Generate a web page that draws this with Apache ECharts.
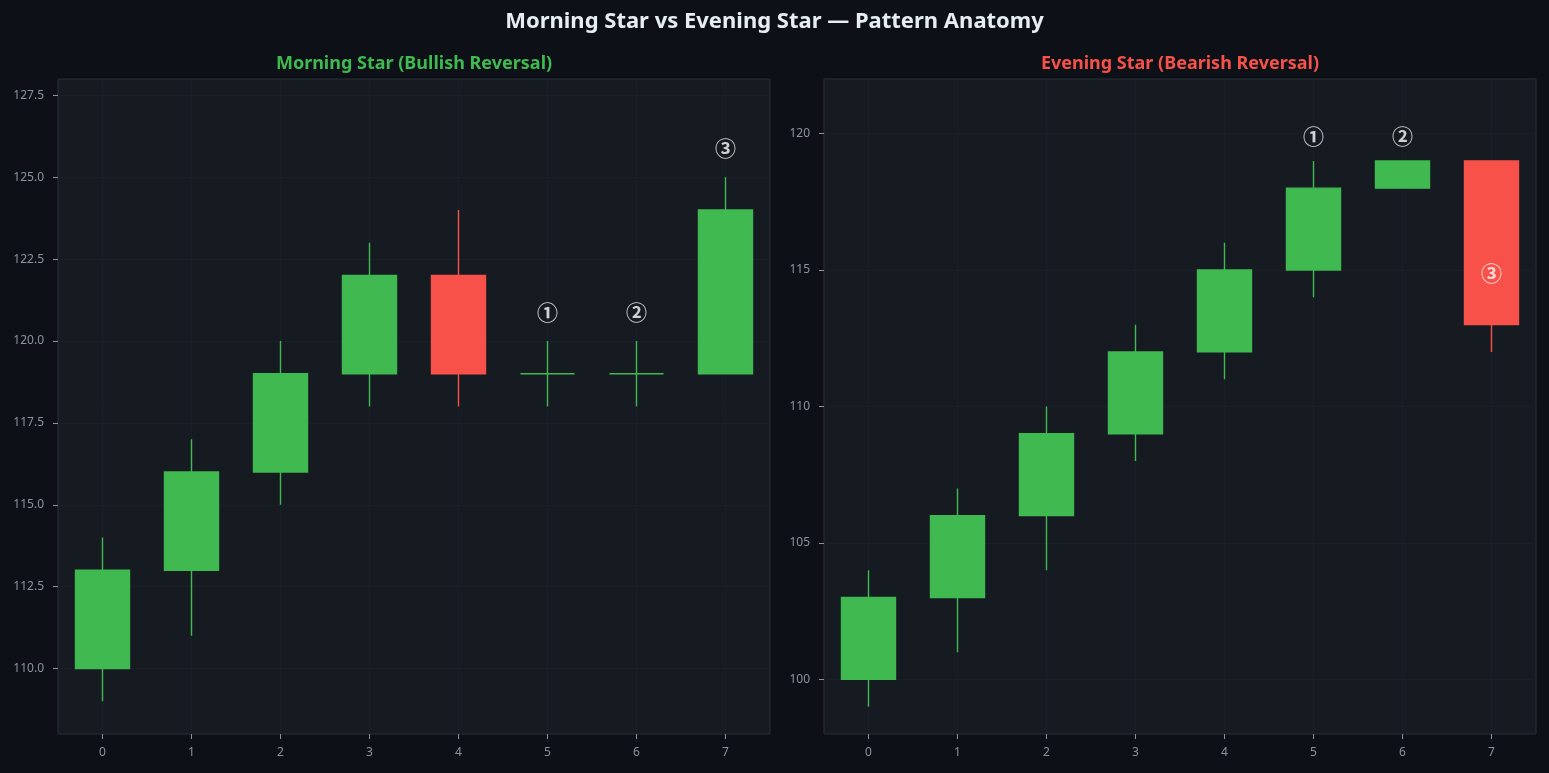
<!DOCTYPE html>
<html>
<head>
<meta charset="utf-8">
<title>Morning Star vs Evening Star</title>
<script src="https://cdn.jsdelivr.net/npm/echarts@6/dist/echarts.min.js"></script>
<style>
  html, body { margin: 0; padding: 0; background: #0d1117; }
  #chart { width: 1549px; height: 773px; }
</style>
</head>
<body>
<div id="chart"></div>
<script>
// --- data ---
var categories = ['0', '1', '2', '3', '4', '5', '6', '7'];

var morningOpen  = [110, 113, 116, 119, 122, 119, 119, 119];
var morningClose = [113, 116, 119, 122, 119, 119, 119, 124];
var morningLow   = [109, 111, 115, 118, 118, 118, 118, 119];
var morningHigh  = [114, 117, 120, 123, 124, 120, 120, 125];

var eveningOpen  = [100, 103, 106, 109, 112, 115, 118, 119];
var eveningClose = [103, 106, 109, 112, 115, 118, 119, 113];
var eveningLow   = [99, 101, 104, 108, 111, 114, 118, 112];
var eveningHigh  = [104, 107, 110, 113, 116, 119, 119, 119];

var markText = ['①', '②', '③'];
var morningMarkIdx = [5, 6, 7];
var morningMarkY = [120.88, 120.88, 125.9];
var eveningMarkIdx = [5, 6, 7];
var eveningMarkY = [119.9, 119.9, 114.9];

var morningTicks = [110, 112.5, 115, 117.5, 120, 122.5, 125, 127.5];
var eveningTicks = [100, 105, 110, 115, 120];

// --- colours ---
var bg = '#0d1117';
var panel = '#161b22';
var border = '#2a3038';
var faint = '#1a1f27';
var ink = '#e6edf3';
var muted = '#8b949e';
var up = '#3fb950';
var down = '#f85149';

function ohlc(o, c, l, h) {
  return o.map(function(v, i) { return [v, c[i], l[i], h[i]]; });
}
function marks(idx, ys) {
  return idx.map(function(v, i) { return [v, ys[i], markText[i]]; });
}

var chart = echarts.init(document.getElementById('chart'), null, { renderer: 'canvas' });

function xAxis(gi) {
  return {
    type: 'category',
    gridIndex: gi,
    data: categories,
    boundaryGap: true,
    axisLine: { show: false },
    axisTick: { show: true, alignWithLabel: true, length: 5, lineStyle: { color: muted, width: 1 } },
    axisLabel: { color: muted, fontSize: 12, margin: 13, fontFamily: 'Noto Sans' },
    splitLine: { show: true, alignWithLabel: true, lineStyle: { color: faint, width: 1 } }
  };
}
function yAxis(gi, min, max, ticks, digits) {
  return {
    type: 'value',
    gridIndex: gi,
    min: min,
    max: max,
    axisLine: { show: false },
    axisTick: { show: true, length: 5, customValues: ticks, lineStyle: { color: muted, width: 1 } },
    axisLabel: {
      color: muted, fontSize: 12, margin: 14, fontFamily: 'Noto Sans',
      customValues: ticks,
      formatter: function(v) { return v.toFixed(digits); }
    },
    splitLine: { show: true, lineStyle: { color: faint, width: 1 } }
  };
}
function candles(xi, data) {
  return {
    type: 'candlestick',
    xAxisIndex: xi,
    yAxisIndex: xi,
    data: data,
    barWidth: 54,
    itemStyle: {
      color: up, color0: down,
      borderColor: up, borderColor0: down, borderColorDoji: up,
      borderWidth: 1.4
    }
  };
}
function labels(xi, data) {
  return {
    type: 'scatter',
    xAxisIndex: xi,
    yAxisIndex: xi,
    data: data,
    symbolSize: 1,
    itemStyle: { color: 'rgba(0,0,0,0)' },
    z: 10,
    label: {
      show: true,
      position: 'inside',
      formatter: function(p) { return p.value[2]; },
      color: '#ffffff',
      textBorderWidth: 0,
      fontSize: 21,
      fontWeight: 'bold',
      fontFamily: 'Noto Sans CJK JP'
    }
  };
}

chart.setOption({
  animation: false,
  backgroundColor: bg,
  title: [
    { text: 'Morning Star vs Evening Star — Pattern Anatomy', left: 'center', top: 6,
      textStyle: { color: ink, fontSize: 22, fontWeight: 'bold', fontFamily: 'Noto Sans' } },
    { text: 'Morning Star (Bullish Reversal)', left: 409, top: 50, textAlign: 'center',
      textStyle: { color: up, fontSize: 18, fontWeight: 'bold', fontFamily: 'Noto Sans' } },
    { text: 'Evening Star (Bearish Reversal)', left: 1175, top: 50, textAlign: 'center',
      textStyle: { color: down, fontSize: 18, fontWeight: 'bold', fontFamily: 'Noto Sans' } }
  ],
  grid: [
    { left: 58, right: 779, top: 79, bottom: 39, show: true, backgroundColor: panel, borderColor: border, borderWidth: 1 },
    { left: 824, right: 13, top: 79, bottom: 39, show: true, backgroundColor: panel, borderColor: border, borderWidth: 1 }
  ],
  xAxis: [xAxis(0), xAxis(1)],
  yAxis: [
    yAxis(0, 108, 128, morningTicks, 1),
    yAxis(1, 98, 122, eveningTicks, 0)
  ],
  series: [
    candles(0, ohlc(morningOpen, morningClose, morningLow, morningHigh)),
    candles(1, ohlc(eveningOpen, eveningClose, eveningLow, eveningHigh)),
    labels(0, marks(morningMarkIdx, morningMarkY)),
    labels(1, marks(eveningMarkIdx, eveningMarkY))
  ]
});
window.addEventListener('resize', function() { chart.resize(); });
</script>
</body>
</html>
